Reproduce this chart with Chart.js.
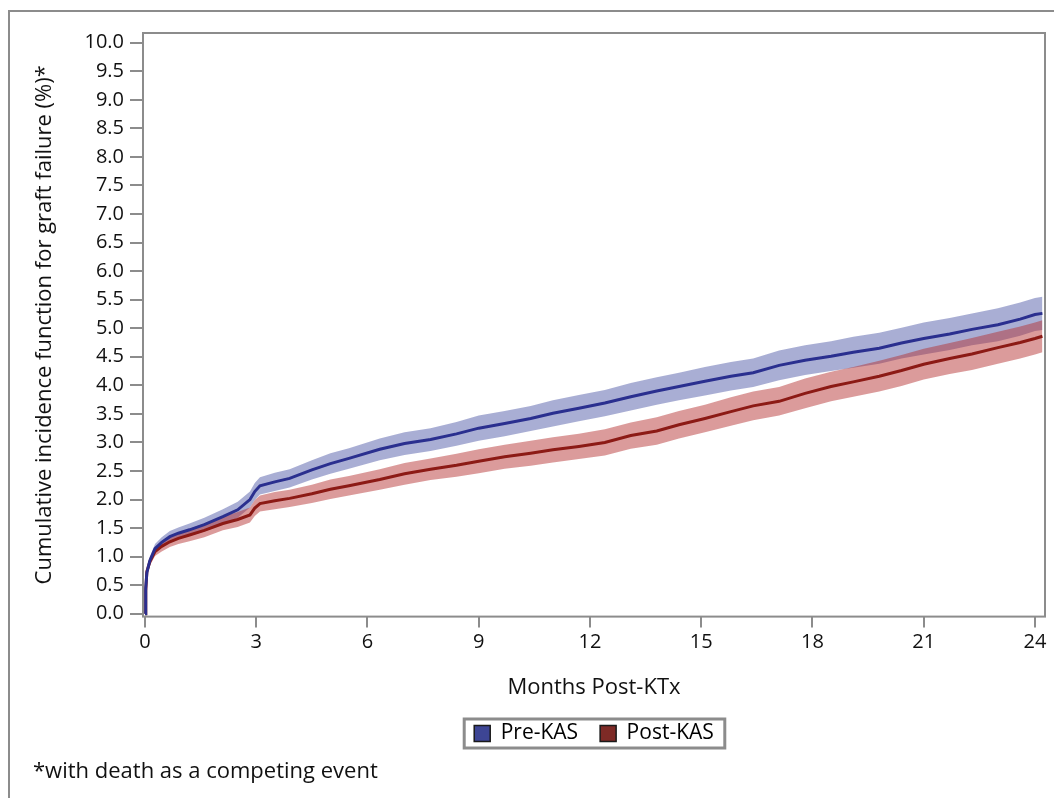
<!DOCTYPE html>
<html>
<head>
<meta charset="utf-8">
<script src="https://cdn.jsdelivr.net/npm/chart.js@4.4.0/dist/chart.umd.min.js"></script>
<style>
  html, body { margin: 0; padding: 0; background: #fff; overflow: hidden; }
  #wrap { position: relative; width: 1054px; height: 798px; overflow: hidden; }
  #frame { position: absolute; left: 8px; top: 10px; width: 1200px; height: 900px; border: 2px solid #8c8c8c; }
  #chart { position: absolute; left: 0; top: 0; }
  #note { position: absolute; left: 33px; top: 756px; font: 22px "Open Sans"; line-height: 26px; color: #111; }
</style>
</head>
<body>
<div id="wrap">
  <div id="frame"></div>
  <canvas id="chart" width="1054" height="760"></canvas>
  <div id="note">*with death as a competing event</div>
</div>
<script>
// months post transplant (x values shared by both groups)
const months = [0, 0.02, 0.05, 0.13, 0.27, 0.45, 0.67, 0.9, 1.2, 1.6, 2.1, 2.5, 2.83, 2.96, 3.1, 3.5, 3.9,
  4.5, 5.0, 5.5, 6.33, 7.0, 7.7, 8.4, 9.0, 9.7, 10.4, 11.0, 11.7, 12.4, 13.1, 13.8, 14.4, 15.1, 15.8,
  16.4, 17.1, 17.8, 18.5, 19.1, 19.8, 20.4, 21.0, 21.7, 22.3, 23.0, 23.6, 24.0, 24.2];

// cumulative incidence (%) - Pre-KAS
const preKAS = [0, 0.45, 0.72, 0.93, 1.14, 1.25, 1.35, 1.41, 1.47, 1.56, 1.70, 1.82, 2.00, 2.14, 2.24, 2.31, 2.37,
  2.52, 2.63, 2.72, 2.88, 2.98, 3.05, 3.15, 3.25, 3.33, 3.42, 3.51, 3.60, 3.69, 3.80, 3.90, 3.98, 4.07, 4.16,
  4.22, 4.35, 4.44, 4.51, 4.58, 4.65, 4.74, 4.82, 4.90, 4.98, 5.06, 5.16, 5.24, 5.26];
// half width of the confidence band - Pre-KAS
const preCI = [0, 0.03, 0.05, 0.07, 0.08, 0.09, 0.10, 0.10, 0.11, 0.12, 0.13, 0.14, 0.14, 0.15, 0.15, 0.16, 0.16,
  0.17, 0.18, 0.18, 0.19, 0.20, 0.20, 0.21, 0.22, 0.22, 0.22, 0.23, 0.23, 0.23, 0.24, 0.24, 0.24, 0.25, 0.25,
  0.25, 0.26, 0.26, 0.26, 0.27, 0.27, 0.27, 0.28, 0.28, 0.28, 0.29, 0.29, 0.29, 0.29];

// cumulative incidence (%) - Post-KAS
const postKAS = [0, 0.40, 0.74, 0.91, 1.09, 1.18, 1.26, 1.32, 1.38, 1.46, 1.58, 1.65, 1.73, 1.85, 1.93, 1.98, 2.02,
  2.10, 2.18, 2.24, 2.35, 2.45, 2.53, 2.60, 2.67, 2.75, 2.81, 2.87, 2.93, 3.00, 3.12, 3.20, 3.31, 3.42, 3.54,
  3.64, 3.72, 3.86, 3.98, 4.06, 4.16, 4.26, 4.37, 4.47, 4.55, 4.66, 4.75, 4.82, 4.86];
// half width of the confidence band - Post-KAS
const postCI = [0, 0.03, 0.05, 0.07, 0.08, 0.09, 0.09, 0.10, 0.11, 0.12, 0.12, 0.13, 0.13, 0.14, 0.14, 0.15, 0.15,
  0.16, 0.17, 0.17, 0.18, 0.19, 0.19, 0.20, 0.21, 0.21, 0.22, 0.22, 0.22, 0.23, 0.23, 0.24, 0.24, 0.24, 0.25,
  0.25, 0.25, 0.26, 0.26, 0.26, 0.27, 0.27, 0.27, 0.27, 0.28, 0.28, 0.28, 0.28, 0.28];

const xTicks = [0, 3, 6, 9, 12, 15, 18, 21, 24];
const yTicks = [0, 0.5, 1, 1.5, 2, 2.5, 3, 3.5, 4, 4.5, 5, 5.5, 6, 6.5, 7, 7.5, 8, 8.5, 9, 9.5, 10];

const pts = (vals) => months.map((m, i) => ({x: m, y: vals[i]}));
const band = (vals, ci, sign) => months.map((m, i) => ({x: m, y: vals[i] + sign * ci[i]}));

const GRAY = '#8c8c8c';
const FONT = 'Open Sans';

const framePlugin = {
    id: 'frame',
    afterDraw: function(chart) {
        const ctx = chart.ctx;
        const a = chart.chartArea;
        ctx.save();
        ctx.strokeStyle = GRAY;
        ctx.lineWidth = 2;
        ctx.strokeRect(a.left, a.top, a.right - a.left, a.bottom - a.top);
        // box round the legend
        const boxes = chart.legend.legendHitBoxes;
        if (boxes && boxes.length) {
            const l = Math.min(...boxes.map(b => b.left)) - 10;
            const r = Math.max(...boxes.map(b => b.left + b.width)) + 11;
            const t = Math.min(...boxes.map(b => b.top)) - 4;
            const btm = Math.max(...boxes.map(b => b.top + b.height)) + 4;
            ctx.lineWidth = 3;
            ctx.strokeRect(l, t, r - l, btm - t);
        }
        ctx.restore();
    }
};

const lineDefaults = {pointRadius: 0, tension: 0, fill: false};

new Chart(document.getElementById('chart').getContext('2d'), {
    type: 'line',
    data: {
        datasets: [
            Object.assign({}, lineDefaults, {label: 'preLow', data: band(preKAS, preCI, -1), borderWidth: 0, order: 2}),
            Object.assign({}, lineDefaults, {label: 'preHigh', data: band(preKAS, preCI, 1), borderWidth: 0,
                fill: '-1', backgroundColor: 'rgba(75, 85, 165, 0.48)', order: 2}),
            Object.assign({}, lineDefaults, {label: 'postLow', data: band(postKAS, postCI, -1), borderWidth: 0, order: 1}),
            Object.assign({}, lineDefaults, {label: 'postHigh', data: band(postKAS, postCI, 1), borderWidth: 0,
                fill: '-1', backgroundColor: 'rgba(180, 45, 45, 0.48)', order: 1}),
            Object.assign({}, lineDefaults, {label: 'Pre-KAS', data: pts(preKAS), borderColor: '#2a2f8f', borderWidth: 3, order: 0}),
            Object.assign({}, lineDefaults, {label: 'Post-KAS', data: pts(postKAS), borderColor: '#8c1a15', borderWidth: 3, order: 0})
        ]
    },
    options: {
        responsive: false,
        animation: false,
        layout: {
            padding: {left: 9, right: 9, top: 33, bottom: 6}
        },
        plugins: {
            tooltip: {enabled: false},
            legend: {
                position: 'bottom',
                fullSize: false,
                labels: {
                    color: '#111',
                    font: {family: FONT, size: 21},
                    boxWidth: 16,
                    boxHeight: 16,
                    padding: 22,
                    generateLabels: function() {
                        return [
                            {text: 'Pre-KAS', fillStyle: '#3d4594', strokeStyle: '#1a1a1a', lineWidth: 1.5, hidden: false, datasetIndex: 4},
                            {text: 'Post-KAS', fillStyle: '#7e2a26', strokeStyle: '#1a1a1a', lineWidth: 1.5, hidden: false, datasetIndex: 5}
                        ];
                    }
                }
            }
        },
        scales: {
            x: {
                type: 'linear',
                min: -0.054,
                max: 24.27,
                afterBuildTicks: function(s) { s.ticks = xTicks.map(v => ({value: v})); },
                border: {display: false},
                grid: {drawOnChartArea: false, drawTicks: true, tickLength: 11, color: GRAY, lineWidth: 2},
                ticks: {color: '#111', padding: 3, autoSkip: false, maxRotation: 0,
                    font: {family: FONT, size: 20}},
                title: {display: true, text: 'Months Post-KTx', color: '#111',
                    font: {family: FONT, size: 22}, padding: {top: 17, bottom: 0}}
            },
            y: {
                type: 'linear',
                min: -0.05,
                max: 10.17,
                afterBuildTicks: function(s) { s.ticks = yTicks.map(v => ({value: v})); },
                afterFit: function(s) { s.width = 134; },
                border: {display: false},
                grid: {drawOnChartArea: false, drawTicks: true, tickLength: 13, color: GRAY, lineWidth: 2},
                ticks: {color: '#111', padding: 6, autoSkip: false,
                    font: {family: FONT, size: 20},
                    callback: function(v) { return Number(v).toFixed(1); }},
                title: {display: true, text: 'Cumulative incidence function for graft failure (%)*', color: '#111',
                    font: {family: FONT, size: 22}, padding: {top: 23, bottom: 0}}
            }
        }
    },
    plugins: [framePlugin]
});
</script>
</body>
</html>
